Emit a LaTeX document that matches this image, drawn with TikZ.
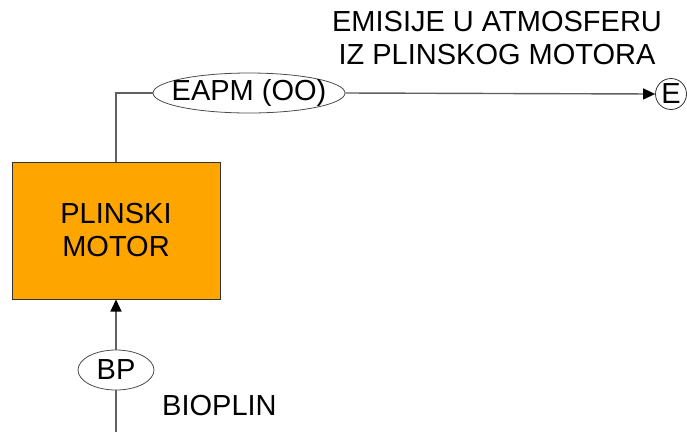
\documentclass[tikz,border=0pt]{standalone}
\usepackage{fontspec}
\setmainfont{Liberation Sans}
\usetikzlibrary{shapes.geometric,arrows.meta}
\definecolor{boxorange}{HTML}{FFA500}
\definecolor{linegray}{HTML}{606060}
\begin{document}
\begin{tikzpicture}[x=1pt,y=-1pt,
  txt/.style={font=\fontsize{29}{33}\selectfont, align=center, inner sep=0pt},
  flowline/.style={draw=linegray, line width=1.4pt},
  tag/.style={ellipse, draw=black!70, line width=0.8pt, inner sep=0pt, txt},
  arr/.style={-{Triangle[length=12pt,width=11pt,color=black]}}]
\useasboundingbox (0,0) rectangle (687,432);
\node[draw=black!80, line width=1pt, fill=boxorange, minimum width=208pt, minimum height=137pt, inner sep=0pt, txt] (motor) at (116,230.5) {PLINSKI\\MOTOR};
\node[tag, inner xsep=-10pt, minimum width=192pt, minimum height=40pt] (eapm) at (249,93) {EAPM (OO)};
\node[circle, draw=black!80, line width=0.8pt, minimum size=31pt, inner sep=0pt, txt] (e) at (671,94) {E};
\node[tag, minimum width=76pt, minimum height=40pt] (bp) at (116,370) {BP};
\node[txt, anchor=west] (bioplin) at (162,406) {BIOPLIN};
\node[txt] (emis) at (497,38) {EMISIJE U ATMOSFERU\\IZ PLINSKOG MOTORA};
\coordinate (bot) at (116,432);
\coordinate (corner) at (116,93);
\draw[flowline] (motor.north) -- (corner) -- (eapm.west);
\draw[flowline, arr] (eapm.east) -- (e.west);
\draw[flowline] (bot) -- (bp.south);
\draw[flowline, arr] (bp.north) -- (motor.south);
\end{tikzpicture}
\end{document}
